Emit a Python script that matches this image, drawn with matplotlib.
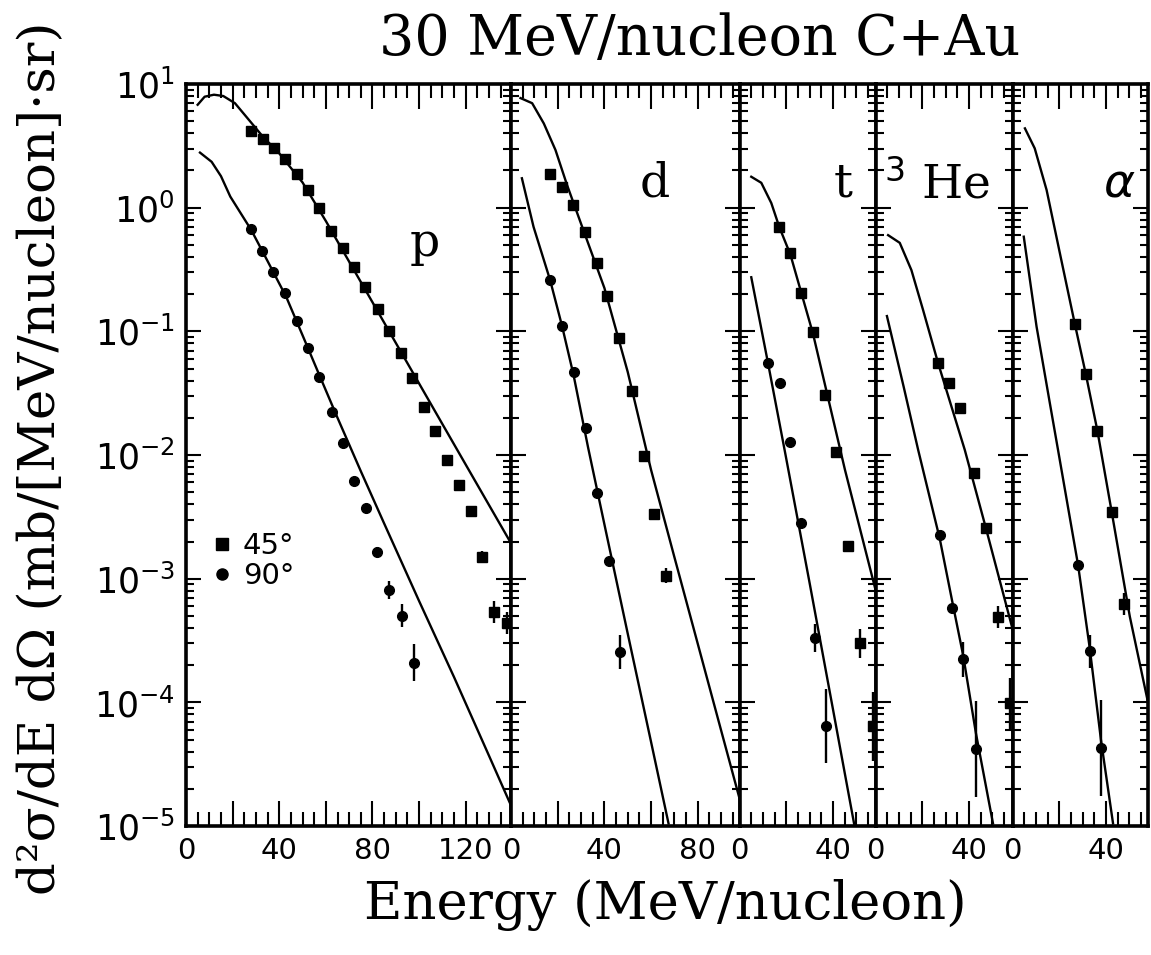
import numpy as np
import matplotlib
matplotlib.use("Agg")
from matplotlib import pyplot as plt
from matplotlib.lines import Line2D
from matplotlib.ticker import FixedLocator, MultipleLocator, FuncFormatter, NullFormatter

# ---- data (energy in MeV/nucleon, cross section) ----
# protons
p_e45 = [27.9, 32.9, 37.8, 42.6, 47.5, 52.4, 57.2, 62.1, 67.2, 72.1, 77.0, 82.4, 87.3,
         92.1, 97.0, 101.9, 107.0, 111.9, 117.3, 122.2, 126.9, 132.3, 137.6]
p_y45 = [4.17, 3.59, 3.05, 2.49, 1.86, 1.39, 1.0, 0.652, 0.47, 0.333, 0.230, 0.151, 0.101,
         0.0665, 0.0417, 0.0243, 0.0157, 0.00912, 0.00573, 0.00353, 0.00151, 0.000536, 0.000437]
p_d45 = [0] * 20 + [0.047, 0.087, 0.089]
p_e90 = [27.9, 32.6, 37.5, 42.4, 47.5, 52.4, 57.2, 62.5, 67.5, 72.1, 77.3, 82.1, 87.3, 92.6, 97.6]
p_y90 = [0.668, 0.447, 0.304, 0.206, 0.122, 0.0730, 0.0430, 0.0224, 0.0126, 0.00621,
         0.00371, 0.00164, 0.00081, 0.000503, 0.00021]
p_d90 = [0] * 11 + [0.04, 0.073, 0.093, 0.148]
p_fe45 = [5, 8, 12, 16, 21, 26, 33, 40, 50, 60, 70, 80, 90, 100, 110, 120, 130, 139]
p_f45 = [6.8, 7.9, 8.2, 8.0, 7.0, 5.4, 3.75, 2.75, 1.6, 0.78, 0.366, 0.172, 0.0807,
         0.0379, 0.0178, 0.00837, 0.00394, 0.0020]
p_fe90 = [6, 11, 15, 19, 24, 28, 35, 43, 50, 57.5, 65, 75, 85, 100, 115, 130, 139]
p_f90 = [2.79, 2.35, 1.8, 1.23, 0.87, 0.66, 0.37, 0.19, 0.093, 0.043, 0.020, 0.0074,
         0.0028, 6.6e-4, 1.6e-4, 3.7e-5, 1.53e-5]

# deuterons
d_e45 = [16.7, 21.6, 26.5, 31.8, 36.8, 41.3, 46.4, 51.9, 56.8, 61.4, 66.4]
d_y45 = [1.87, 1.48, 1.05, 0.64, 0.355, 0.193, 0.089, 0.033, 0.00984, 0.00334, 0.00106]
d_d45 = [0] * 10 + [0.06]
d_e90 = [16.7, 21.8, 26.8, 32.2, 36.8, 41.9, 46.8]
d_y90 = [0.26, 0.111, 0.0473, 0.0165, 0.00497, 0.00139, 2.55e-4]
d_d90 = [0] * 6 + [0.135]
d_fe45 = [4, 9, 14, 19, 24, 30, 40, 50, 60, 70, 80, 90, 98]
d_f45 = [7.7, 7.0, 4.8, 2.93, 1.52, 0.74, 0.224, 0.047, 0.0076, 0.0015, 3.0e-4, 6.0e-5, 1.66e-5]
d_fe90 = [4.6, 9.6, 16.7, 21.8, 26.8, 33, 40, 50, 60, 67.5]
d_f90 = [1.73, 0.70, 0.26, 0.111, 0.044, 0.0115, 0.00275, 3.6e-4, 4.8e-5, 1.05e-5]

# tritons
t_e45 = [16.9, 21.8, 26.5, 31.5, 36.8, 41.5, 46.5, 51.5, 57.2]
t_y45 = [0.70, 0.433, 0.206, 0.0995, 0.0306, 0.0105, 1.84e-3, 3.0e-4, 6.4e-5]
t_d45 = [0] * 6 + [0.03, 0.115, 0.28]
t_e90 = [12.2, 17.2, 21.8, 26.5, 32.2, 37.2]
t_y90 = [0.0552, 0.0385, 0.0127, 2.84e-3, 3.3e-4, 6.4e-5]
t_d90 = [0] * 4 + [0.115, 0.3]
t_fe45 = [5, 9.3, 13.6, 17, 21.8, 26.5, 31.5, 45.2, 58.7]
t_f45 = [1.78, 1.59, 1.09, 0.70, 0.417, 0.204, 0.0955, 0.00759, 7.6e-4]
t_fe90 = [5, 12.2, 19.3, 30, 40, 49.3]
t_f90 = [0.274, 0.0552, 0.011, 9.3e-4, 8.9e-5, 1.0e-5]

# 3He
h_e45 = [26.7, 31.5, 36.1, 42.1, 47.2, 52.5, 57.5]
h_y45 = [0.0558, 0.0385, 0.0239, 7.2e-3, 2.59e-3, 4.9e-4, 9.8e-5]
h_d45 = [0] * 5 + [0.087, 0.21]
h_e90 = [27.5, 32.9, 37.5, 42.8]
h_y90 = [2.26e-3, 5.8e-4, 2.23e-4, 4.2e-5]
h_d90 = [0, 0, 0.14, 0.39]
h_fe45 = [5.3, 10.3, 15.3, 20.3, 26.7, 38.2, 47.2, 58.8]
h_f45 = [0.60, 0.52, 0.313, 0.149, 0.0558, 0.011, 2.59e-3, 3.85e-4]
h_fe90 = [4.8, 12, 18.2, 27.5, 33, 37.5, 43, 50.3]
h_f90 = [0.133, 0.0355, 0.011, 2.09e-3, 6.3e-4, 2.4e-4, 5.6e-5, 1.05e-5]

# alphas
a_e45 = [26.6, 31.3, 36.3, 42.4, 47.8]
a_y45 = [0.115, 0.0453, 0.0157, 3.49e-3, 6.25e-4]
a_d45 = [0, 0, 0, 0, 0.087]
a_e90 = [28.0, 33.0, 37.8]
a_y90 = [1.29e-3, 2.58e-4, 4.3e-5]
a_d90 = [0, 0.135, 0.39]
a_fe45 = [5.2, 9.4, 14.5, 20.2, 26.6, 31.3, 36.3, 42.4, 50.2, 58.1]
a_f45 = [4.38, 3.02, 1.39, 0.428, 0.115, 0.0453, 0.0157, 3.49e-3, 4.94e-4, 9.8e-5]
a_fe90 = [4.7, 10.2, 15.9, 19.4, 28.0, 33.0, 37.8, 43.0]
a_f90 = [0.583, 0.109, 0.0262, 0.011, 1.29e-3, 2.75e-4, 5.0e-5, 1.05e-5]

particles = ["p", "d", "t", "$^{3}$ He", r"$\alpha$"]
x_max = [139.5, 98, 58.4, 58.8, 58]
label_pos = [(0.735, 0.785), (0.63, 0.865), (0.76, 0.865), (0.45, 0.865), (0.79, 0.865)]
y_decades = [1e-5, 1e-4, 1e-3, 1e-2, 1e-1, 1e0, 1e1]

panels = [
    (p_e45, p_y45, p_d45, p_e90, p_y90, p_d90, p_fe45, p_f45, p_fe90, p_f90),
    (d_e45, d_y45, d_d45, d_e90, d_y90, d_d90, d_fe45, d_f45, d_fe90, d_f90),
    (t_e45, t_y45, t_d45, t_e90, t_y90, t_d90, t_fe45, t_f45, t_fe90, t_f90),
    (h_e45, h_y45, h_d45, h_e90, h_y90, h_d90, h_fe45, h_f45, h_fe90, h_f90),
    (a_e45, a_y45, a_d45, a_e90, a_y90, a_d90, a_fe45, a_f45, a_fe90, a_f90),
]


def log_err(y, dex):
    # symmetric error bar in log space -> (lower, upper) offsets
    y = np.asarray(y)
    dex = np.asarray(dex)
    return [y * (1 - 10 ** -dex), y * (10 ** dex - 1)]


fig = plt.figure(figsize=(11.51, 9.55), dpi=100)
gs = fig.add_gridspec(1, 5, width_ratios=x_max, left=0.1616, right=0.9974,
                      bottom=0.135, top=0.912, wspace=0)

# minor log ticks (2..9 within each decade)
minor_y = [m * d for d in y_decades[:-1] for m in range(2, 10)]

for i, (e45, y45, d45, e90, y90, d90, fe45, f45, fe90, f90) in enumerate(panels):
    ax = fig.add_subplot(gs[0, i])
    ax.set_yscale("log")
    ax.set_ylim(1e-5, 10)
    ax.set_xlim(0, x_max[i])

    ax.plot(fe45, f45, color="black", lw=1.7)
    ax.plot(fe90, f90, color="black", lw=1.7)
    ax.errorbar(e45, y45, yerr=log_err(y45, d45), fmt="s", ms=7, color="black",
                elinewidth=1.7, capsize=0)
    ax.errorbar(e90, y90, yerr=log_err(y90, d90), fmt="o", ms=7, color="black",
                elinewidth=1.7, capsize=0)

    ax.text(label_pos[i][0], label_pos[i][1], particles[i], transform=ax.transAxes,
            ha="center", va="center", fontsize=34, family="DejaVu Serif")

    ticks_x = np.arange(0, x_max[i] + 0.1, 20)
    ax.xaxis.set_major_locator(FixedLocator(ticks_x))
    ax.xaxis.set_minor_locator(FixedLocator(np.arange(0, x_max[i] + 0.1, 5)))
    ax.xaxis.set_major_formatter(FuncFormatter(
        lambda v, pos: "%d" % v if abs(v % 40) < 1e-6 else ""))
    ax.yaxis.set_major_locator(FixedLocator(y_decades))
    ax.yaxis.set_minor_locator(FixedLocator(minor_y))
    ax.yaxis.set_minor_formatter(NullFormatter())

    ax.tick_params(axis="both", which="both", direction="in", top=True, right=True,
                   width=1.5, colors="black")
    ax.tick_params(axis="x", which="major", length=18, labelsize=21, pad=8)
    ax.tick_params(axis="x", which="minor", length=10)
    ax.tick_params(axis="y", which="major", length=11, labelsize=25, pad=8)
    ax.tick_params(axis="y", which="minor", length=6)
    if i > 0:
        ax.tick_params(axis="y", which="both", labelleft=False)
    for s in ax.spines.values():
        s.set_linewidth(2.6)

    if i == 0:
        handles = [Line2D([], [], ls="none", marker="s", ms=8, color="black", label="45°"),
                   Line2D([], [], ls="none", marker="o", ms=8, color="black", label="90°")]
        ax.legend(handles=handles, loc="center left", bbox_to_anchor=(0.04, 0.357),
                  frameon=False, fontsize=21, handlelength=0.6, handletextpad=0.4,
                  labelspacing=0.05, borderpad=0)

fig.text(0.608, 0.958, "30 MeV/nucleon C+Au", ha="center", va="center",
         fontsize=40, family="DejaVu Serif")
fig.text(0.578, 0.052, "Energy (MeV/nucleon)", ha="center", va="center",
         fontsize=38, family="DejaVu Serif")
fig.text(0.036, 0.52, "d²σ/dE dΩ (mb/[MeV/nucleon]·sr)", ha="center", va="center",
         rotation=90, fontsize=37, family="DejaVu Serif")

fig.savefig("out.png", dpi=100)
